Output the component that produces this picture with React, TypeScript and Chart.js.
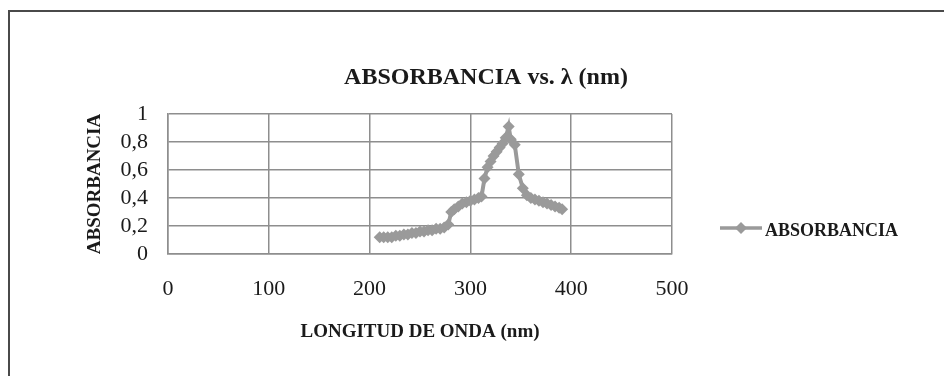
import React, { useEffect, useRef } from "react";
import { Chart, registerables } from "chart.js";

Chart.register(...registerables);

const TITLE = "ABSORBANCIA vs. λ (nm)";
const SERIES_NAME = "ABSORBANCIA";
const X_TITLE = "LONGITUD DE ONDA (nm)";
const Y_TITLE = "ABSORBANCIA";

const wavelengths = [
  210, 214, 218, 222, 226, 230, 234, 238, 242, 246, 250, 254, 258, 262, 266, 270, 274, 278,
  281, 284, 288, 292, 296, 300, 304, 308, 311, 314, 317, 320, 323, 326, 329, 332, 335, 338,
  340, 344, 348, 352, 356, 360, 364, 368, 372, 376, 380, 384, 388, 391,
];
const absorbance = [
  0.12, 0.12, 0.12, 0.12, 0.13, 0.13, 0.14, 0.14, 0.15, 0.15, 0.16, 0.16, 0.17, 0.17, 0.18, 0.18, 0.19, 0.21,
  0.3, 0.32, 0.34, 0.36, 0.37, 0.38, 0.39, 0.4, 0.41, 0.54, 0.62, 0.66, 0.7, 0.73, 0.76, 0.79, 0.83, 0.91,
  0.82, 0.78, 0.57, 0.47, 0.42, 0.4, 0.39, 0.38, 0.37, 0.36, 0.35, 0.34, 0.33, 0.32,
];
const yTickLabels = ["0", "0,2", "0,4", "0,6", "0,8", "1"];
const xTickLabels = ["0", "100", "200", "300", "400", "500"];

const SERIES_COLOR = "#9a9a9a";
const TEXT_COLOR = "#1a1a1a";
const FONT = '"Liberation Serif", "Times New Roman", serif';

export default function App() {
  const ref = useRef<HTMLCanvasElement | null>(null);

  useEffect(() => {
    if (!ref.current) return;
    const overlay = {
      id: "overlayText",
      afterDraw(chart: any) {
        const ctx = chart.ctx;
        ctx.save();
        ctx.fillStyle = TEXT_COLOR;
        ctx.font = `bold 24px ${FONT}`;
        ctx.textAlign = "center";
        ctx.textBaseline = "middle";
        ctx.fillText(TITLE, 486, 78);
        // legend
        const ly = 228;
        ctx.strokeStyle = SERIES_COLOR;
        ctx.lineWidth = 3.5;
        ctx.beginPath();
        ctx.moveTo(720, ly);
        ctx.lineTo(762, ly);
        ctx.stroke();
        ctx.fillStyle = SERIES_COLOR;
        ctx.beginPath();
        ctx.moveTo(741, ly - 6);
        ctx.lineTo(747, ly);
        ctx.lineTo(741, ly + 6);
        ctx.lineTo(735, ly);
        ctx.closePath();
        ctx.fill();
        ctx.fillStyle = TEXT_COLOR;
        ctx.font = `bold 18px ${FONT}`;
        ctx.textAlign = "left";
        ctx.fillText(SERIES_NAME, 765, ly + 3);
        ctx.restore();
      },
    };

    const chart = new Chart(ref.current, {
      type: "line",
      data: {
        datasets: [
          {
            label: SERIES_NAME,
            data: wavelengths.map((x, i) => ({ x, y: absorbance[i] })),
            borderColor: SERIES_COLOR,
            backgroundColor: SERIES_COLOR,
            borderWidth: 4,
            pointStyle: "rectRot",
            pointRadius: 6,
            pointBackgroundColor: SERIES_COLOR,
            pointBorderColor: SERIES_COLOR,
            pointBorderWidth: 0,
            tension: 0,
          },
        ],
      },
      options: {
        animation: false,
        responsive: false,
        layout: { padding: { left: 84, right: 272, top: 114, bottom: 33 } },
        plugins: {
          legend: { display: false },
          title: { display: false },
          tooltip: { enabled: false },
        },
        scales: {
          x: {
            type: "linear",
            min: 0,
            max: 500,
            afterFit: (s: any) => {
              s.height = 89;
            },
            ticks: {
              stepSize: 100,
              padding: 22,
              autoSkip: false,
              color: TEXT_COLOR,
              font: { family: FONT, size: 22 },
              callback: (_v: any, i: number) => xTickLabels[i],
              maxRotation: 0,
            },
            grid: { color: "#8e8e8e", lineWidth: 1.5, drawTicks: false },
            border: { color: "#8e8e8e", width: 1.5 },
            title: {
              display: true,
              text: X_TITLE,
              color: TEXT_COLOR,
              font: { family: FONT, size: 19, weight: "bold" },
              padding: { top: 0, bottom: 0 },
            },
          },
          y: {
            min: 0,
            max: 1,
            afterFit: (s: any) => {
              s.width = 84;
            },
            ticks: {
              stepSize: 0.2,
              padding: 20,
              autoSkip: false,
              color: TEXT_COLOR,
              font: { family: FONT, size: 22 },
              callback: (_v: any, i: number) => yTickLabels[i],
            },
            grid: { color: "#8e8e8e", lineWidth: 1.5, drawTicks: false },
            border: { color: "#8e8e8e", width: 1.5 },
            title: {
              display: true,
              text: Y_TITLE,
              color: TEXT_COLOR,
              font: { family: FONT, size: 19, weight: "bold" },
              padding: { top: 0, bottom: 0 },
            },
          },
        },
      },
      plugins: [overlay],
    });
    return () => chart.destroy();
  }, []);

  return (
    <div
      style={{
        position: "fixed",
        left: 0,
        top: 0,
        width: 944,
        height: 376,
        overflow: "hidden",
        background: "#fff",
      }}
    >
      <div
        style={{
          position: "absolute",
          left: 8,
          top: 10,
          width: 1000,
          height: 500,
          border: "2px solid #4a4a4a",
        }}
      />
      <canvas ref={ref} width={944} height={376} style={{ position: "absolute", left: 0, top: 0 }} />
    </div>
  );
}
